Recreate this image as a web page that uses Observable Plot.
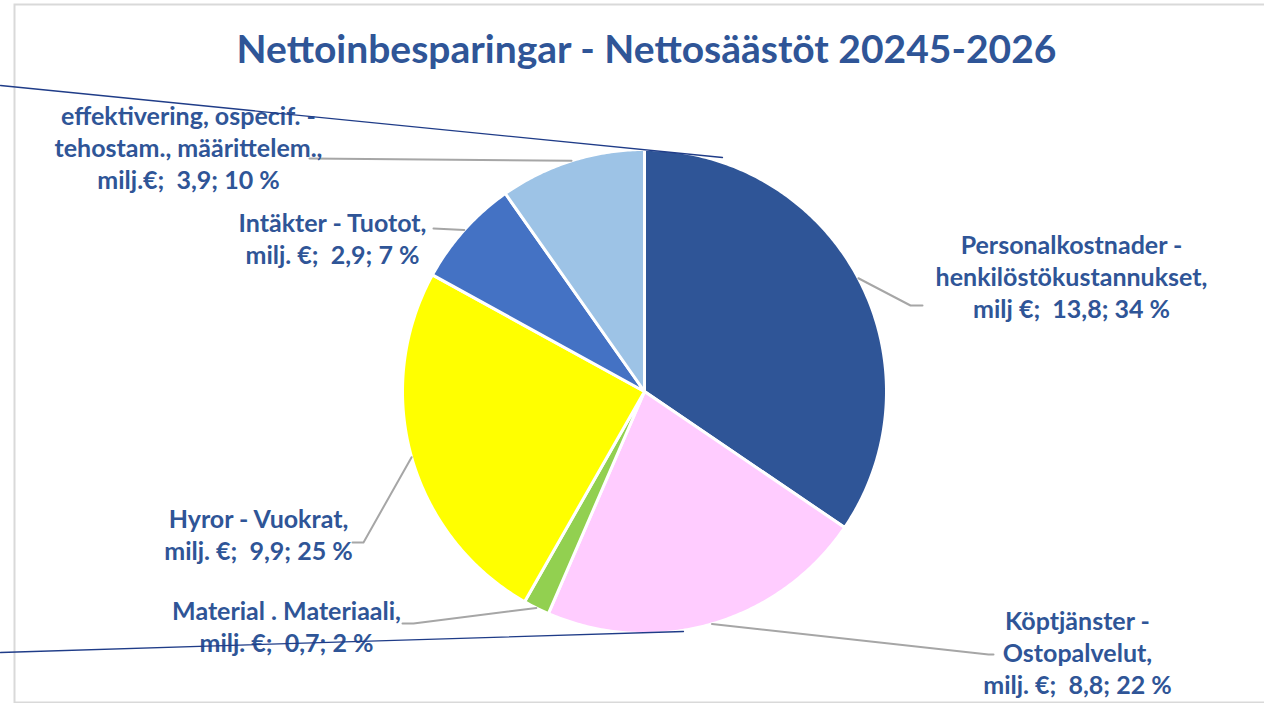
<!DOCTYPE html>
<html><head><meta charset="utf-8">
<script src="https://cdn.jsdelivr.net/npm/d3@7"></script>
<script src="https://cdn.jsdelivr.net/npm/@observablehq/plot@0.6"></script>
<style>body{margin:0;background:#fff;overflow:hidden}</style>
</head><body><div id="chart"></div>
<script>
// ---- data ----
const title = "Nettoinbesparingar - Nettosäästöt 20245-2026";
const categories = [
  "Personalkostnader -\nhenkilöstökustannukset,",
  "Köptjänster -\nOstopalvelut,",
  "Material . Materiaali,",
  "Hyror - Vuokrat,",
  "Intäkter - Tuotot,",
  "effektivering, ospecif. -\ntehostam., määrittelem.,"
];
const units = ["milj €", "milj. €", "milj. €", "milj. €", "milj. €", "milj.€"];
const values = [13.8, 8.8, 0.7, 9.9, 2.9, 3.9];
const percents = [34, 22, 2, 25, 7, 10];
const colors = ["#2F5597", "#FFCCFF", "#92D050", "#FFFF00", "#4472C4", "#9DC3E6"];

// ---- layout (pixel space) ----
const W = 1264, H = 703;
const cx = 644, cy = 391, R = 242;
const labelPos = [[1071, 275], [1077, 651], [286, 625], [258, 533], [332, 237], [188, 146]];
const leaderEnds = [[[910, 305], [922, 305]], [[988, 654], [993, 654]], [[413, 623], [402, 623]],
                    [[363, 542], [352, 542]], [[433, 228]], [[309, 158]]];
const strayLines = [[[0, 85], [722, 157]], [[0, 652], [683, 631]]];

const fmt = v => String(v).replace(".", ",");
const arcs = d3.pie().sort(null).value(d => d)(values);
const pt = (a, r) => ({x: cx + r * Math.sin(a), y: cy - r * Math.cos(a)});

const slices = arcs.map((a, i) => {
  const pts = [{x: cx, y: cy}];
  const n = Math.max(4, Math.ceil((a.endAngle - a.startAngle) / 0.01));
  for (let k = 0; k <= n; k++) pts.push(pt(a.startAngle + (a.endAngle - a.startAngle) * k / n, R));
  pts.push({x: cx, y: cy});
  return {pts, color: colors[i]};
});

const leaders = arcs.map((a, i) => {
  const m = (a.startAngle + a.endAngle) / 2;
  return [pt(m, R), ...leaderEnds[i].map(([x, y]) => ({x, y}))];
});

const labels = categories.map((c, i) => ({
  x: labelPos[i][0], y: labelPos[i][1],
  text: `${c}\n${units[i]};\u00a0 ${fmt(values[i])}; ${percents[i]} %`
}));

const blue = "#2F5597";
const plot = Plot.plot({
  width: W, height: H, margin: 0,
  x: {domain: [0, W], range: [0, W], axis: null},
  y: {domain: [0, H], range: [0, H], axis: null},
  marks: [
    Plot.frame({stroke: "#D9D9D9", strokeWidth: 2, insetLeft: 14, insetTop: 4, insetBottom: 1, insetRight: -5}),
    ...slices.map(s => Plot.line(s.pts, {x: "x", y: "y", fill: s.color, stroke: "white", strokeWidth: 3, strokeLinejoin: "round", curve: "linear"})),
    ...leaders.map(l => Plot.line(l, {x: "x", y: "y", stroke: "#A6A6A6", strokeWidth: 2})),
    Plot.text(labels, {x: "x", y: "y", text: "text", fill: blue, fontSize: 25, fontWeight: "bold",
      fontFamily: "Lato", lineHeight: 1.28, textAnchor: "middle", lineAnchor: "middle"}),
    Plot.text([title], {x: () => 646, y: () => 50, text: d => d, fill: blue, fontSize: 39, fontWeight: "bold",
      fontFamily: "Lato", textAnchor: "middle", lineAnchor: "middle"}),
    ...strayLines.map(l => Plot.line(l, {x: d => d[0], y: d => d[1], stroke: "#1F3C88", strokeWidth: 1.3}))
  ]
});
document.getElementById("chart").appendChild(plot);
</script>
</body></html>
